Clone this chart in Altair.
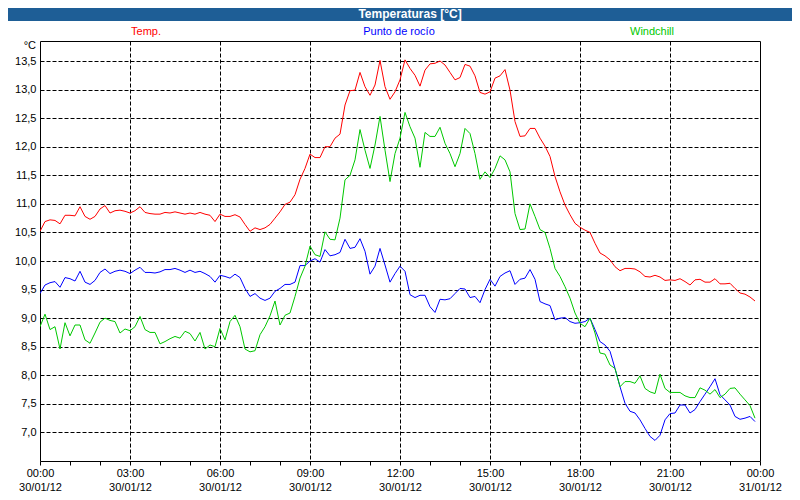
import altair as alt
import pandas as pd

# ---- data (10-minute readings, 30/01/12) ----
series_names = ["Temp.", "Punto de rocío", "Windchill"]
series_colors = ["#ff0000", "#0000ff", "#00c800"]

temp = [
    10.52, 10.69, 10.72, 10.71, 10.65, 10.80, 10.80, 10.79, 10.95, 10.78, 10.73, 10.78, 10.91, 10.97, 10.84, 10.88, 10.89, 10.87,
    10.84, 10.88, 10.95, 10.85, 10.83, 10.82, 10.82, 10.85, 10.84, 10.86, 10.84, 10.82, 10.84, 10.82, 10.85, 10.82, 10.80, 10.69,
    10.82, 10.78, 10.78, 10.81, 10.77, 10.64, 10.52, 10.58, 10.55, 10.58, 10.64, 10.75, 10.86, 10.99, 11.03, 11.16, 11.43, 11.62,
    11.87, 11.81, 11.81, 12.00, 12.00, 12.15, 12.22, 12.73, 12.98, 12.99, 13.30, 13.05, 12.90, 13.08, 13.51, 13.05, 12.83, 12.96,
    13.17, 13.52, 13.37, 13.25, 13.06, 13.34, 13.45, 13.46, 13.50, 13.43, 13.30, 13.17, 13.21, 13.44, 13.41, 13.24, 12.95, 12.92,
    12.96, 13.20, 13.24, 13.35, 12.99, 12.44, 12.18, 12.19, 12.32, 12.32, 12.15, 12.01, 11.83, 11.48, 11.21, 10.98, 10.81, 10.66,
    10.59, 10.54, 10.50, 10.31, 10.14, 10.09, 10.02, 9.90, 9.83, 9.87, 9.87, 9.86, 9.81, 9.73, 9.72, 9.75, 9.72, 9.66,
    9.67, 9.66, 9.69, 9.64, 9.58, 9.67, 9.68, 9.63, 9.63, 9.69, 9.60, 9.60, 9.61, 9.52, 9.44, 9.42, 9.37, 9.30,
]

dewpoint = [
    9.43, 9.58, 9.62, 9.64, 9.54, 9.71, 9.69, 9.65, 9.82, 9.63, 9.59, 9.66, 9.80, 9.86, 9.78, 9.82, 9.84, 9.82,
    9.78, 9.84, 9.89, 9.80, 9.80, 9.79, 9.81, 9.85, 9.85, 9.87, 9.84, 9.80, 9.84, 9.80, 9.82, 9.78, 9.73, 9.63,
    9.75, 9.73, 9.70, 9.77, 9.71, 9.52, 9.38, 9.43, 9.35, 9.31, 9.35, 9.47, 9.52, 9.59, 9.59, 9.63, 9.92, 9.92,
    10.00, 10.04, 9.98, 10.20, 10.09, 10.11, 10.15, 10.38, 10.22, 10.24, 10.39, 10.17, 9.77, 9.91, 10.22, 9.93, 9.63, 9.78,
    9.91, 9.82, 9.41, 9.36, 9.40, 9.40, 9.20, 9.10, 9.33, 9.32, 9.34, 9.43, 9.52, 9.51, 9.36, 9.38, 9.27, 9.50,
    9.68, 9.56, 9.73, 9.79, 9.83, 9.59, 9.68, 9.70, 9.85, 9.68, 9.29, 9.25, 9.22, 8.97, 9.00, 9.01, 8.94, 8.91,
    8.92, 8.94, 9.00, 8.80, 8.59, 8.53, 8.42, 8.12, 7.80, 7.51, 7.37, 7.34, 7.22, 7.07, 6.93, 6.86, 6.95, 7.22,
    7.33, 7.34, 7.48, 7.48, 7.34, 7.40, 7.54, 7.67, 7.80, 7.94, 7.66, 7.57, 7.48, 7.28, 7.23, 7.25, 7.28, 7.19,
]

windchill = [
    8.85, 9.07, 8.80, 8.85, 8.46, 8.92, 8.69, 8.88, 8.88, 8.62, 8.56, 8.74, 8.93, 9.00, 8.96, 8.94, 8.74, 8.81,
    8.78, 8.85, 9.03, 8.80, 8.75, 8.75, 8.55, 8.59, 8.64, 8.68, 8.65, 8.77, 8.73, 8.60, 8.75, 8.46, 8.53, 8.50,
    8.82, 8.62, 8.94, 9.05, 8.85, 8.46, 8.41, 8.43, 8.71, 8.85, 9.04, 9.30, 8.88, 9.05, 9.09, 9.38, 9.70, 9.91,
    10.26, 10.11, 10.08, 10.51, 10.38, 10.37, 10.75, 11.42, 11.50, 11.77, 12.30, 11.94, 11.62, 12.03, 12.53, 11.94, 11.39, 11.88,
    12.15, 12.60, 12.35, 12.15, 11.64, 12.25, 12.18, 12.18, 12.34, 12.06, 11.88, 11.65, 11.88, 12.32, 12.23, 11.88, 11.43, 11.56,
    11.46, 11.62, 11.84, 11.77, 11.56, 10.83, 10.55, 10.56, 11.00, 10.78, 10.55, 10.50, 10.22, 9.87, 9.73, 9.55, 9.35, 9.09,
    8.91, 8.85, 9.00, 8.74, 8.39, 8.37, 8.18, 8.12, 7.80, 7.89, 7.89, 7.86, 7.99, 7.77, 7.71, 7.68, 8.02, 7.77,
    7.70, 7.70, 7.70, 7.64, 7.61, 7.61, 7.78, 7.74, 7.67, 7.75, 7.61, 7.67, 7.77, 7.78, 7.67, 7.57, 7.47, 7.25,
]

minutes = list(range(0, 1440, 10))
y_ticks = [7.0, 7.5, 8.0, 8.5, 9.0, 9.5, 10.0, 10.5, 11.0, 11.5, 12.0, 12.5, 13.0, 13.5]
x_ticks = list(range(0, 25))

rows = []
for name, vals in zip(series_names, [temp, dewpoint, windchill]):
    for m, v in zip(minutes, vals):
        rows.append({"h": m / 60.0, "v": v, "s": name})
df = pd.DataFrame(rows)

FONT = "Liberation Sans"
FRAME = "#1e5e96"
one = alt.Data(values=[{}])

x_axis = alt.Axis(
    values=x_ticks, title=None, domain=False,
    grid=True, gridColor="black", gridDash=[4, 2], gridWidth=1,
    gridOpacity={"condition": {"test": "datum.value % 3 == 0 && datum.value > 0 && datum.value < 24", "value": 1}, "value": 0},
    ticks=True, tickSize=4, tickColor="black", tickWidth=1,
    labelExpr="datum.value % 3 == 0 ? [format(datum.value % 24, '02d') + ':00', datum.value == 24 ? '31/01/12' : '30/01/12'] : ''",
    labelOverlap=False, labelFlush=False, labelBound=False,
    labelPadding=2, labelLineHeight=14, labelFont=FONT, labelFontSize=11, labelColor="black",
)
y_axis = alt.Axis(
    values=y_ticks, title=None, domain=False,
    grid=True, gridColor="black", gridDash=[4, 2], gridWidth=1,
    ticks=False, labelPadding=4,
    labelExpr="replace(format(datum.value, '.1f'), '.', ',')",
    labelFont=FONT, labelFontSize=11, labelColor="black",
)

lines = alt.Chart(df).mark_line(strokeWidth=1, clip=True).encode(
    x=alt.X("h:Q", scale=alt.Scale(domain=[0, 24], nice=False, zero=False), axis=x_axis),
    y=alt.Y("v:Q", scale=alt.Scale(domain=[6.5, 13.85], nice=False, zero=False), axis=y_axis),
    color=alt.Color("s:N", scale=alt.Scale(domain=series_names, range=series_colors), legend=None),
    order=alt.Order("h:Q"),
)

def label(txt, x, y, color, size=11, weight="normal", align="center"):
    return alt.Chart(one).mark_text(
        text=txt, font=FONT, fontSize=size, fontWeight=weight, color=color,
        align=align, baseline="middle",
    ).encode(x=alt.value(x), y=alt.value(y))

title_bar = alt.Chart(one).mark_rect(color=FRAME).encode(
    x=alt.value(-32), x2=alt.value(760), y=alt.value(-33), y2=alt.value(-20))

chart = alt.layer(
    lines,
    title_bar,
    label("Temperaturas [°C]", 370, -27, "white", size=12, weight="bold"),
    label(series_names[0], 106, -9, series_colors[0]),
    label(series_names[1], 359, -9, series_colors[1]),
    label(series_names[2], 612, -9, series_colors[2]),
    label("°C", -4, 4.5, "black", align="right"),
).properties(
    width=720, height=420,
    autosize=alt.AutoSizeParams(type="none"),
    padding={"left": 32, "top": 33, "right": 32, "bottom": 31},
    background="white",
).configure_view(stroke="black", strokeWidth=1)

chart.save("out.html", embed_options={"renderer": "svg", "actions": False})
